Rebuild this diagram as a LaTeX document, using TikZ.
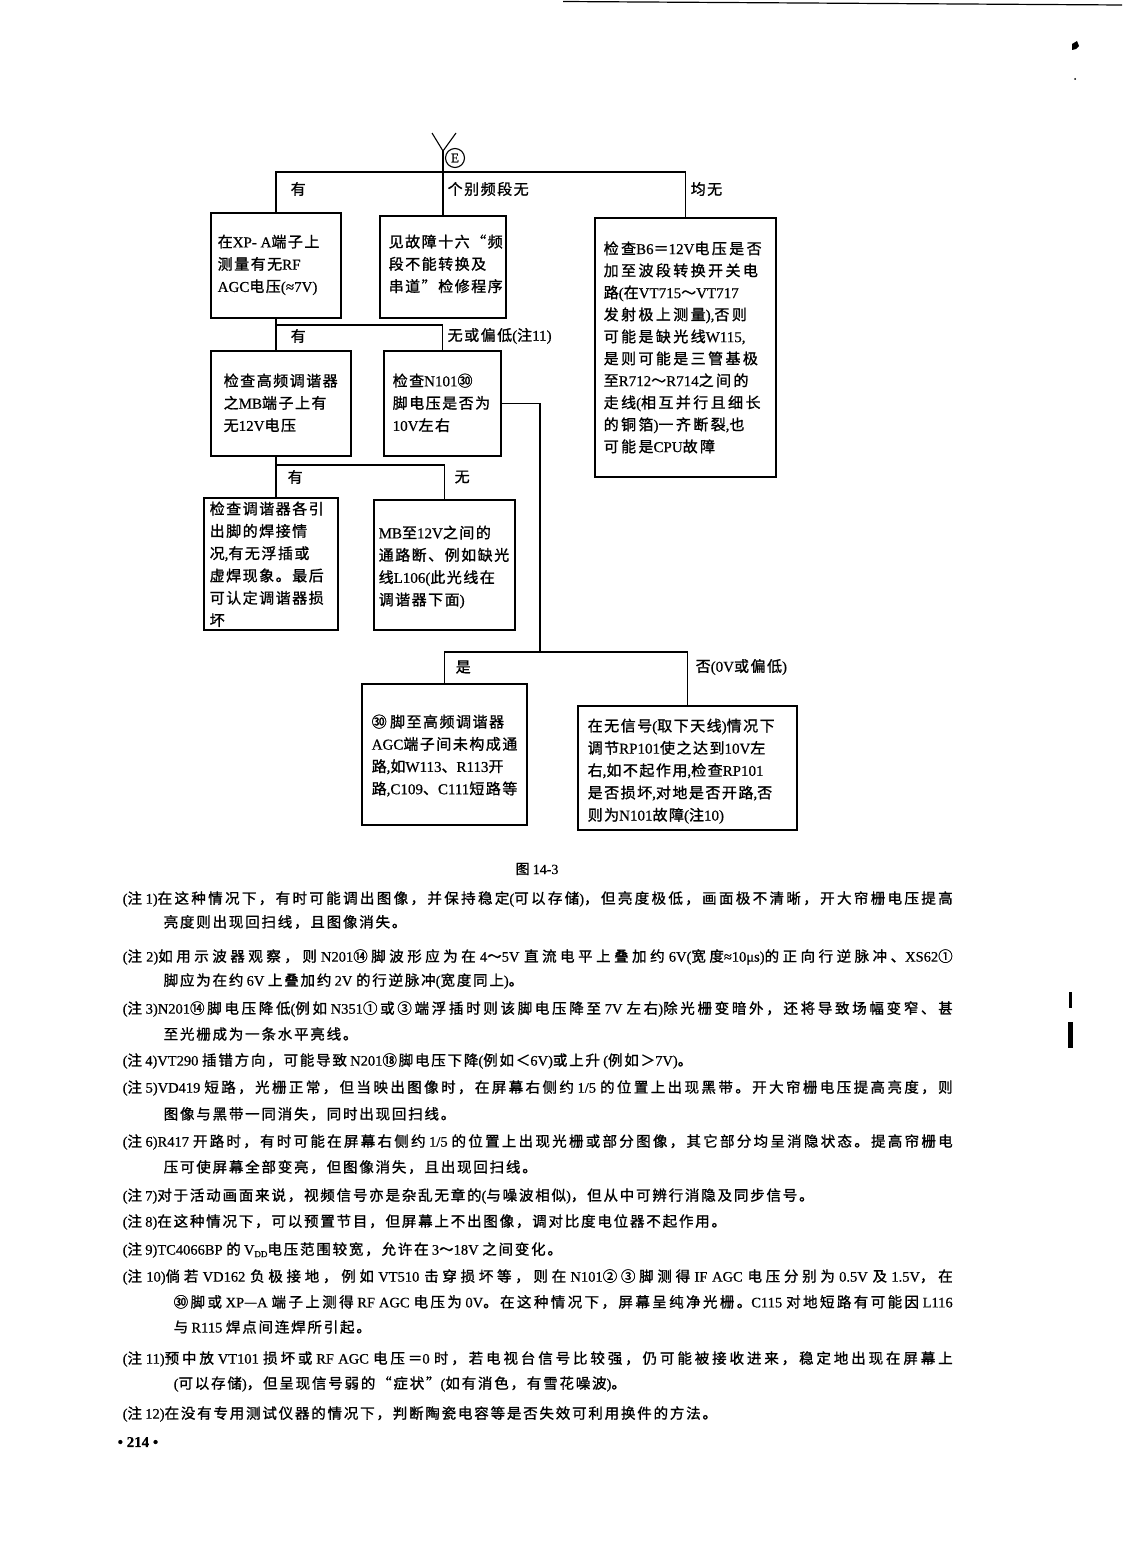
\documentclass[tikz,border=0pt]{standalone}
\usepackage{fontspec}
\setmainfont{Liberation Serif}[FakeBold=0.6]
\newfontfamily\cjkfnt{Noto Sans CJK SC}[FakeBold=1.2]
\newfontfamily\latfnt{Liberation Serif}[FakeBold=0.6]
\newskip\cjkgap \cjkgap=1.5pt plus 3pt minus 1.5pt
\XeTeXinterchartokenstate=1
\newXeTeXintercharclass\CJKcls
\newcount\cjkcc
\def\setclass#1#2#3{\cjkcc=#1\relax\loop\XeTeXcharclass\cjkcc=#3\relax\ifnum\cjkcc<#2\relax\advance\cjkcc by 1\relax\repeat}
\setclass{"21}{"3FF}{0}
\setclass{"2000}{"22FF}{0}
\setclass{"4E00}{"9FFF}{\CJKcls}
\setclass{"3000}{"303F}{\CJKcls}
\setclass{"3200}{"32FF}{\CJKcls}
\setclass{"2460}{"24FF}{\CJKcls}
\setclass{"FF01}{"FF60}{\CJKcls}
\XeTeXcharclass"201C=\CJKcls
\XeTeXcharclass"201D=\CJKcls
\XeTeXcharclass"2014=\CJKcls
\XeTeXinterchartoks 0 \CJKcls = {\cjkfnt}
\XeTeXinterchartoks 4095 \CJKcls = {\cjkfnt}
\XeTeXinterchartoks \CJKcls 0 = {\latfnt}
\XeTeXinterchartoks 4095 0 = {\latfnt}
\XeTeXinterchartoks \CJKcls \CJKcls = {\hskip\cjkgap}
\newcommand\fl[1]{\hbox to 830pt{#1}}
\newcommand\fla[1]{\hbox to 779pt{#1}}
\begin{document}
\begin{tikzpicture}[x=1pt,y=-1pt,line width=1.4pt,
  box/.style={draw,rectangle,inner sep=0pt},
  btxt/.style={anchor=north west,inner sep=0pt,align=left,font=\fontsize{15}{22.3}\selectfont},
  lbl/.style={anchor=west,inner sep=0pt,font=\fontsize{15}{18}\selectfont},
  note/.style={anchor=west,inner sep=0pt,font={\fontsize{14.5}{18}\selectfont\cjkgap=1.8pt plus 3pt minus 1.5pt}}]
\path[fill=white,use as bounding box] (0,0) rectangle (1122,1568);
% scan marks
\draw[line width=1.2pt] (563,1.5) -- (1122,5);
\fill (1072,44) -- (1077,41) -- (1079,46) -- (1076,49) -- (1072,50) -- cycle;
\fill (1075,79) circle (1pt);
\fill (1069,992) rectangle (1071.5,1008);
\fill (1067.5,1022) rectangle (1073,1048);
% boxes
\node[box,minimum width=130pt,minimum height=105pt] (bA) at (276,265.5) {};
\node[box,minimum width=126pt,minimum height=102pt] (bB) at (443,267) {};
\node[box,minimum width=181pt,minimum height=259pt] (bC) at (685.5,347.5) {};
\node[box,minimum width=140pt,minimum height=105pt] (bD) at (281,403.5) {};
\node[box,minimum width=117pt,minimum height=105pt] (bE) at (442.5,403.5) {};
\node[box,minimum width=134pt,minimum height=132pt] (bF) at (271,564) {};
\node[box,minimum width=141pt,minimum height=130pt] (bG) at (444.5,565) {};
\node[box,minimum width=165pt,minimum height=141pt] (bH) at (444.5,754.5) {};
\node[box,minimum width=219pt,minimum height=124pt] (bI) at (687.5,768) {};
% box texts
\node[btxt] (tA) at (217,231) {\strut 在XP- A端子上\\测量有无RF\\AGC电压(≈7V)};
\node[btxt] (tB) at (388,231) {\strut 见故障十六“频\\段不能转换及\\串道”检修程序};
\node[btxt,font={\fontsize{15}{22}\selectfont\cjkgap=2.4pt}] (tC) at (603,238) {\strut 检查B6＝12V电压是否\\加至波段转换开关电\\路(在VT715～VT717\\发射极上测量),否则\\可能是缺光线W115,\\是则可能是三管基极\\至R712～R714之间的\\走线(相互并行且细长\\的铜箔)一齐断裂,也\\可能是CPU故障};
\node[btxt] (tD) at (223,370) {\strut 检查高频调谐器\\之MB端子上有\\无12V电压};
\node[btxt] (tE) at (392,370) {\strut 检查N101㉚\\脚电压是否为\\10V左右};
\node[btxt] (tF) at (209,498) {\strut 检查调谐器各引\\出脚的焊接情\\况,有无浮插或\\虚焊现象。最后\\可认定调谐器损\\坏};
\node[btxt] (tG) at (378,522) {\strut MB至12V之间的\\通路断、例如缺光\\线L106(此光线在\\调谐器下面)};
\node[btxt] (tH) at (371,711) {\strut ㉚ 脚至高频调谐器\\AGC端子间未构成通\\路,如W113、R113开\\路,C109、C111短路等};
\node[btxt] (tI) at (587,715) {\strut 在无信号(取下天线)情况下\\调节RP101使之达到10V左\\右,如不起作用,检查RP101\\是否损坏,对地是否开路,否\\则为N101故障(注10)};
% antenna
\coordinate (ant) at (443,151);
\draw[line width=1.1pt] (432,133) -- (ant) -- (456,133);
\node[circle,draw,line width=1.1pt,minimum size=19pt,inner sep=0pt,font=\fontsize{13}{13}\selectfont] (cE) at (455,158) {E};
% connectors
\coordinate (t1) at (0,172);
\coordinate (t2) at (0,325);
\coordinate (t3) at (0,465);
\coordinate (t4) at (0,652);
\coordinate (vx) at (540,0);
\draw (ant) -- (bB.north);
\draw (bA.north) -- (bA.north |- t1) -- (bC.north |- t1) -- (bC.north);
\draw (bA.south) -- (bA.south |- bD.north);
\draw (bA.south |- t2) -| (bE.north);
\draw (bA.south |- bD.south) -- (bA.south |- bF.north);
\draw (bA.south |- t3) -| (bG.north);
\draw (bE.east) -- (bE.east -| vx) -- (vx |- t4);
\draw (bH.north) -- (bH.north |- t4) -- (bI.north |- t4) -- (bI.north);
% labels
\node[lbl] (lA) at (290,189) {有};
\node[lbl] (lB) at (447,189) {个别频段无};
\node[lbl] (lC) at (690,189) {均无};
\node[lbl] (lD) at (290,336) {有};
\node[lbl] (lE) at (447,336) {无或偏低(注11)};
\node[lbl] (lF) at (287,477) {有};
\node[lbl] (lG) at (454,477) {无};
\node[lbl] (lH) at (455,667) {是};
\node[lbl] (lI) at (695,667) {否(0V或偏低)};
% caption
\node[font=\fontsize{14}{16}\selectfont] (cap) at (537,869) {图 14-3};
% notes
\node[note] (n1a) at (122,899) {\fl{(注 1)在这种情况下，有时可能调出图像，并保持稳定(可以存储)，但亮度极低，画面极不清晰，开大帘栅电压提高}};
\node[note] (n1b) at (163,922) {亮度则出现回扫线，且图像消失。};
\node[note] (n2a) at (122,957) {\fl{(注 2)如用示波器观察，则 N201⑭脚波形应为在 4～5V 直流电平上叠加约 6V(宽度≈10μs)的正向行逆脉冲、XS62①}};
\node[note] (n2b) at (163,981) {脚应为在约 6V 上叠加约 2V 的行逆脉冲(宽度同上)。};
\node[note] (n3a) at (122,1009) {\fl{(注 3)N201⑭脚电压降低(例如 N351①或③端浮插时则该脚电压降至 7V 左右)除光栅变暗外，还将导致场幅变窄、甚}};
\node[note] (n3b) at (163,1034) {至光栅成为一条水平亮线。};
\node[note] (n4) at (122,1061) {(注 4)VT290 插错方向，可能导致 N201⑱脚电压下降(例如＜6V)或上升 (例如＞7V)。};
\node[note] (n5a) at (122,1088) {\fl{(注 5)VD419 短路，光栅正常，但当映出图像时，在屏幕右侧约 1/5 的位置上出现黑带。开大帘栅电压提高亮度，则}};
\node[note] (n5b) at (163,1114) {图像与黑带一同消失，同时出现回扫线。};
\node[note] (n6a) at (122,1142) {\fl{(注 6)R417 开路时，有时可能在屏幕右侧约 1/5 的位置上出现光栅或部分图像，其它部分均呈消隐状态。提高帘栅电}};
\node[note] (n6b) at (163,1167) {压可使屏幕全部变亮，但图像消失，且出现回扫线。};
\node[note] (n7) at (122,1196) {(注 7)对于活动画面来说，视频信号亦是杂乱无章的(与噪波相似)，但从中可辨行消隐及同步信号。};
\node[note] (n8) at (122,1222) {(注 8)在这种情况下，可以预置节目，但屏幕上不出图像，调对比度电位器不起作用。};
\node[note] (n9) at (122,1250) {(注 9)TC4066BP 的 V\raisebox{-2.5pt}{\fontsize{9}{9}\selectfont DD}电压范围较宽，允许在 3～18V 之间变化。};
\node[note] (n10a) at (122,1277) {\fl{(注 10)倘若 VD162 负极接地，例如 VT510 击穿损坏等，则在 N101②③脚测得 IF AGC 电压分别为 0.5V 及 1.5V，在}};
\node[note] (n10b) at (173,1302) {\fla{㉚脚或 XP—A 端子上测得 RF AGC 电压为 0V。在这种情况下，屏幕呈纯净光栅。C115 对地短路有可能因 L116}};
\node[note] (n10c) at (173,1327) {与 R115 焊点间连焊所引起。};
\node[note] (n11a) at (122,1359) {\fl{(注 11)预中放 VT101 损坏或 RF AGC 电压＝0 时，若电视台信号比较强，仍可能被接收进来，稳定地出现在屏幕上}};
\node[note] (n11b) at (173,1384) {(可以存储)，但呈现信号弱的“症状”(如有消色，有雪花噪波)。};
\node[note] (n12) at (122,1414) {(注 12)在没有专用测试仪器的情况下，判断陶瓷电容等是否失效可利用换件的方法。};
\node[anchor=west,inner sep=0pt,font=\fontsize{15}{18}\selectfont\bfseries] (pg) at (117,1442) {• 214 •};
\end{tikzpicture}
\end{document}
